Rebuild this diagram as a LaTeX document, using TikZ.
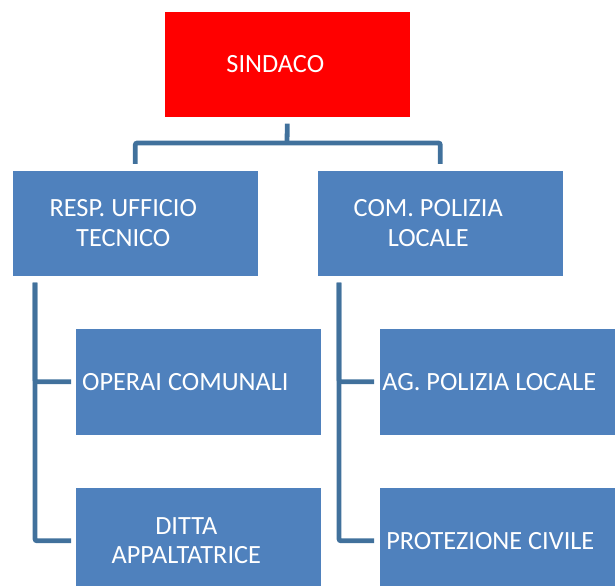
\documentclass[tikz,border=0pt]{standalone}
\usepackage{fontspec}
\setmainfont{Carlito}
\definecolor{boxblue}{HTML}{4F81BD}
\definecolor{connblue}{HTML}{41719C}
\definecolor{topred}{HTML}{FF0000}
\begin{document}
\begin{tikzpicture}[x=1bp,y=-1bp,
  box/.style={draw=white, line width=0.6bp, fill=boxblue, minimum width=246bp, minimum height=106bp, inner sep=0pt, anchor=north west},
  redbox/.style={box, fill=topred},
  label/.style={text=white, inner sep=0pt, align=center, font=\fontsize{26.3bp}{29.5bp}\selectfont},
  conn/.style={draw=connblue, line width=4.8bp, rounded corners=2bp}]
\useasboundingbox (0,0) rectangle (615,586);
\clip (0,0) rectangle (615,586);
\node[redbox] (sindaco) at (164,11) {};
\node[box] (resp) at (12,170) {};
\node[box] (com) at (317,170) {};
\node[box, minimum height=107bp] (operai) at (75,328) {};
\node[box, minimum height=107bp] (ditta) at (75,487) {};
\node[box, minimum height=107bp] (ag) at (379,328) {};
\node[box, minimum height=107bp] (prot) at (379,487) {};
\node[label] (tsindaco) at ([xshift=-12bp]sindaco.center) {SINDACO};
\node[label] (tresp) at ([xshift=-12bp]resp.center) {RESP. UFFICIO\\TECNICO};
\node[label] (tcom) at ([xshift=-12bp]com.center) {COM. POLIZIA\\LOCALE};
\node[label] (toperai) at ([xshift=-13bp]operai.center) {OPERAI COMUNALI};
\node[label] (tditta) at ([xshift=-12bp]ditta.center) {DITTA\\APPALTATRICE};
\node[label] (tag) at ([xshift=-13bp]ag.center) {AG. POLIZIA LOCALE};
\node[label] (tprot) at ([xshift=-12bp]prot.center) {PROTEZIONE CIVILE};
\coordinate (hub) at (287,143);
\draw[conn] ([yshift=-6bp]sindaco.south) -- (hub);
\draw[conn] ([yshift=6bp]resp.north) |- (hub) -| ([yshift=6bp]com.north);
\draw[conn] ([xshift=23bp,yshift=-6bp]resp.south west) |- ([xshift=-4bp]operai.west);
\draw[conn] ([xshift=23bp,yshift=-6bp]resp.south west) |- ([xshift=-4bp]ditta.west);
\draw[conn] ([xshift=22bp,yshift=-6bp]com.south west) |- ([xshift=-5bp]ag.west);
\draw[conn] ([xshift=22bp,yshift=-6bp]com.south west) |- ([xshift=-5bp]prot.west);
\end{tikzpicture}
\end{document}
